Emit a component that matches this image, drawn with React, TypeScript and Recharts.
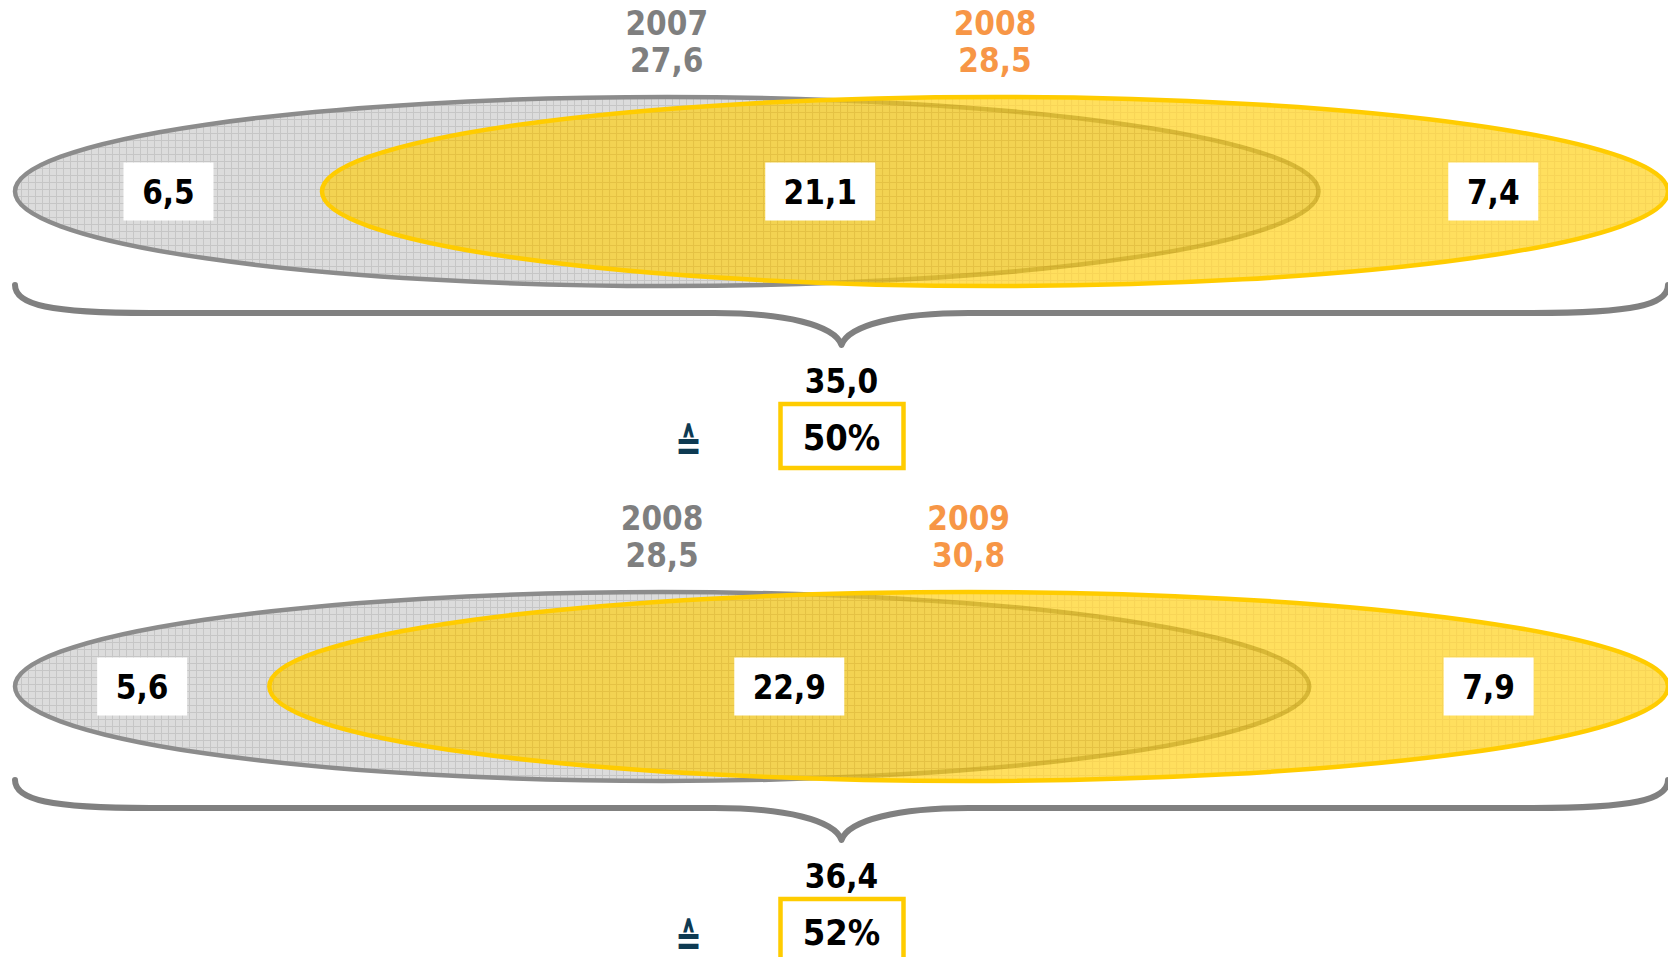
import React from 'react'
import { ComposedChart, XAxis, YAxis, ReferenceArea, Scatter } from 'recharts'

// each comparison is one row across these arrays
const yearsLeft = ['2007', '2008']
const yearsRight = ['2008', '2009']
const onlyLeft = [6.5, 5.6]
const overlap = [21.1, 22.9]
const onlyRight = [7.4, 7.9]
const totalLeft = [27.6, 28.5]
const totalRight = [28.5, 30.8]
const combined = [35.0, 36.4]
const overlapShare = ['50%', '52%']

const WIDTH = 1668
const PANEL_HEIGHT = 495

// vertical layout of a panel (px from its top)
const HEADER_Y = 35
const ELLIPSE_TOP = 97
const ELLIPSE_BOTTOM = 286
const BRACE_TOP = 285
const BRACE_TIP = 345
const TOTAL_Y = 393

const FONT = '"DejaVu Sans Condensed", "DejaVu Sans", sans-serif'
const GREY_TEXT = '#7f7f7f'
const ORANGE_TEXT = '#f79646'

const fmt = (v: number) => v.toFixed(1).replace('.', ',')

const GreyEllipse = ({ x, y, width, height }: any) => (
  <ellipse
    cx={x + width / 2}
    cy={y + height / 2}
    rx={width / 2}
    ry={height / 2}
    fill="url(#greyHatch)"
    stroke="#8c8c8c"
    strokeWidth={4.5}
  />
)

const YellowEllipse = ({ x, y, width, height }: any) => (
  <ellipse
    cx={x + width / 2}
    cy={y + height / 2}
    rx={width / 2}
    ry={height / 2}
    fill="url(#yellowHatch)"
    fillOpacity={0.66}
    stroke="#ffcc00"
    strokeWidth={4.5}
  />
)

const Brace = ({ x, y, width, height }: any) => {
  const left = x
  const right = x + width
  const mid = x + width / 2
  const top = y
  const tip = y + height
  const line = top + 28
  const d = [
    `M${left},${top}`,
    `C${left},${line - 8} ${left + 35},${line} ${left + 135},${line}`,
    `L${mid - 127},${line}`,
    `C${mid - 57},${line} ${mid - 7},${line + 12} ${mid},${tip}`,
    `C${mid + 7},${line + 12} ${mid + 57},${line} ${mid + 127},${line}`,
    `L${right - 135},${line}`,
    `C${right - 35},${line} ${right},${line - 8} ${right},${top}`
  ].join(' ')
  return <path d={d} fill="none" stroke="#808080" strokeWidth={6} strokeLinecap="round" strokeLinejoin="round" />
}

const Header = ({ cx, cy, payload }: any) => (
  <g fontFamily={FONT} fontWeight="bold" fontSize={33} fill={payload.color} textAnchor="middle">
    <text x={cx} y={cy}>{payload.year}</text>
    <text x={cx} y={cy + 37}>{fmt(payload.value)}</text>
  </g>
)

const RegionLabel = ({ cx, cy, payload }: any) => {
  const text = fmt(payload.value)
  const w = 30 + text.length * 20
  return (
    <g>
      <rect x={cx - w / 2} y={cy - 29} width={w} height={58} fill="#ffffff" />
      <text x={cx} y={cy + 12} textAnchor="middle" fontFamily={FONT} fontWeight="bold" fontSize={33} fill="#000000">
        {text}
      </text>
    </g>
  )
}

const TotalLabel = ({ cx, cy, payload }: any) => {
  const symX = cx - 153
  const symY = cy + 67
  return (
    <g fontFamily={FONT} fontWeight="bold">
      <text x={cx} y={cy} textAnchor="middle" fontSize={33} fill="#000000">{fmt(payload.value)}</text>
      <text
        x={0}
        y={0}
        transform={`translate(${symX},${symY}) scale(0.8,1)`}
        textAnchor="middle"
        fontSize={44}
        fill="#0e3a52"
      >
        ≙
      </text>
      <rect x={cx - 61} y={cy + 11} width={123} height={64} fill="#ffffff" stroke="#ffcc00" strokeWidth={4.5} />
      <text x={cx} y={cy + 57} textAnchor="middle" fontSize={36} fill="#000000">{payload.share}</text>
    </g>
  )
}

function VennPanel({ i }: { i: number }) {
  const total = combined[i]
  const headers = [
    { x: totalLeft[i] / 2, y: HEADER_Y, year: yearsLeft[i], value: totalLeft[i], color: GREY_TEXT },
    { x: onlyLeft[i] + totalRight[i] / 2, y: HEADER_Y, year: yearsRight[i], value: totalRight[i], color: ORANGE_TEXT }
  ]
  const mid = (ELLIPSE_TOP + ELLIPSE_BOTTOM) / 2
  const regions = [
    { x: onlyLeft[i] / 2, y: mid, value: onlyLeft[i] },
    { x: onlyLeft[i] + overlap[i] / 2, y: mid, value: overlap[i] },
    { x: totalLeft[i] + onlyRight[i] / 2, y: mid, value: onlyRight[i] }
  ]
  const sum = [{ x: total / 2, y: TOTAL_Y, value: total, share: overlapShare[i] }]

  return (
    <ComposedChart width={WIDTH} height={PANEL_HEIGHT} margin={{ top: 0, right: 0, bottom: 0, left: 15 }}>
      <XAxis type="number" dataKey="x" domain={[0, total]} allowDataOverflow hide />
      <YAxis type="number" dataKey="y" domain={[0, PANEL_HEIGHT]} allowDataOverflow reversed hide />
      <ReferenceArea x1={0} x2={totalLeft[i]} y1={ELLIPSE_TOP} y2={ELLIPSE_BOTTOM} shape={GreyEllipse} />
      <ReferenceArea x1={onlyLeft[i]} x2={total} y1={ELLIPSE_TOP} y2={ELLIPSE_BOTTOM} shape={YellowEllipse} />
      <ReferenceArea x1={0} x2={total} y1={BRACE_TOP} y2={BRACE_TIP} shape={Brace} />
      <Scatter data={headers} shape={Header} isAnimationActive={false} />
      <Scatter data={regions} shape={RegionLabel} isAnimationActive={false} />
      <Scatter data={sum} shape={TotalLabel} isAnimationActive={false} />
    </ComposedChart>
  )
}

export default function App() {
  return (
    <div style={{ width: WIDTH, height: 957, overflow: 'hidden', background: '#ffffff' }}>
      <style>{'body{margin:0}'}</style>
      <svg width={0} height={0} style={{ position: 'absolute' }}>
        <defs>
          <pattern id="greyHatch" width={7} height={7} patternUnits="userSpaceOnUse">
            <rect width={7} height={7} fill="#dcdcdc" />
            <path d="M0,0.5 H7 M0.5,0 V7" stroke="#c6c6c6" strokeWidth={1} />
          </pattern>
          <pattern id="yellowHatch" width={7} height={7} patternUnits="userSpaceOnUse">
            <rect width={7} height={7} fill="#ffcf0a" />
            <path d="M0,0.5 H7 M0.5,0 V7" stroke="#f5c000" strokeWidth={1.2} />
          </pattern>
        </defs>
      </svg>
      {combined.map((_, i) => (
        <VennPanel key={i} i={i} />
      ))}
    </div>
  )
}
